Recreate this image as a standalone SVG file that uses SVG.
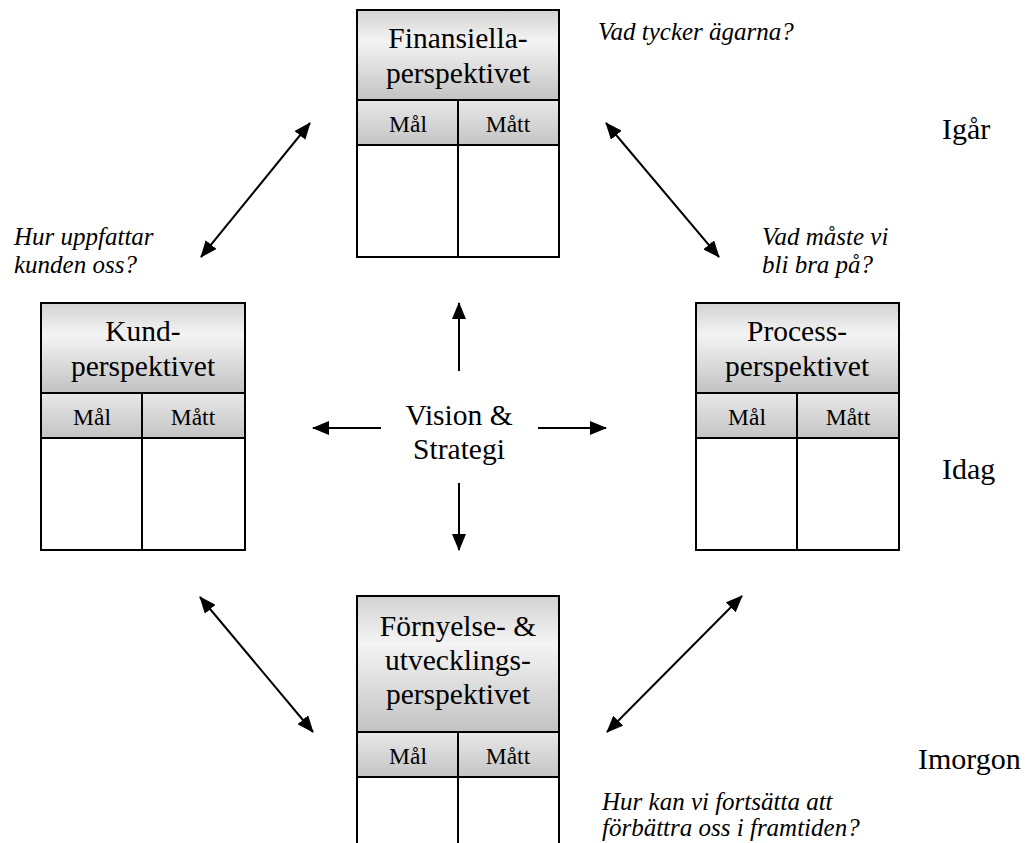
<svg xmlns="http://www.w3.org/2000/svg" width="1026" height="843" viewBox="0 0 1026 843">
<style>
.box{fill:#fff;stroke:#000;stroke-width:2}
.hdr{fill:url(#gh);stroke:#000;stroke-width:2}
.row{fill:url(#gr);stroke:#000;stroke-width:2}
.ln{stroke:#000;stroke-width:2;fill:none}
.ht{font-family:"Liberation Serif","Times New Roman",serif;font-size:29.5px;text-anchor:middle;fill:#000}
.rt{font-family:"Liberation Serif","Times New Roman",serif;font-size:23.5px;text-anchor:middle;fill:#000}
.it{font-family:"Liberation Serif","Times New Roman",serif;font-size:25px;font-style:italic;fill:#000}
.tt{font-family:"Liberation Serif","Times New Roman",serif;font-size:30px;fill:#000}
.ar{stroke:#000;stroke-width:2;fill:none;marker-end:url(#ah)}
.da{stroke:#000;stroke-width:2;fill:none;marker-start:url(#ah);marker-end:url(#ah)}
</style>
<defs>
<linearGradient id="gh" x1="0" y1="0" x2="0" y2="1">
<stop offset="0" stop-color="#d2d2d2"/>
<stop offset="0.35" stop-color="#f4f4f4"/>
<stop offset="1" stop-color="#c2c2c2"/>
</linearGradient>
<linearGradient id="gr" x1="0" y1="0" x2="0" y2="1">
<stop offset="0" stop-color="#e8e8e8"/>
<stop offset="1" stop-color="#c4c4c4"/>
</linearGradient>
<marker id="ah" markerUnits="userSpaceOnUse" markerWidth="18" markerHeight="14" refX="16" refY="7" orient="auto-start-reverse">
<path d="M0,0 L17,7 L0,14 z" fill="#000"/>
</marker>
</defs>
<rect width="1026" height="843" fill="#fff"/>

<g id="finansiella">
<rect class="box" x="357" y="10" width="202" height="247"/>
<rect class="hdr" x="357" y="10" width="202" height="90"/>
<rect class="row" x="357" y="100" width="202" height="45"/>
<line class="ln" x1="458" y1="100" x2="458" y2="257"/>
<text class="ht" x="458" y="48">Finansiella-</text>
<text class="ht" x="458" y="83">perspektivet</text>
<text class="rt" x="408" y="132">Mål</text>
<text class="rt" x="508" y="132">Mått</text>
</g>

<g id="kund">
<rect class="box" x="41" y="303" width="204" height="247"/>
<rect class="hdr" x="41" y="303" width="204" height="90"/>
<rect class="row" x="41" y="393" width="204" height="45"/>
<line class="ln" x1="142" y1="393" x2="142" y2="550"/>
<text class="ht" x="143" y="341">Kund-</text>
<text class="ht" x="143" y="376">perspektivet</text>
<text class="rt" x="92" y="425">Mål</text>
<text class="rt" x="193" y="425">Mått</text>
</g>

<g id="process">
<rect class="box" x="696" y="303" width="203" height="247"/>
<rect class="hdr" x="696" y="303" width="203" height="90"/>
<rect class="row" x="696" y="393" width="203" height="45"/>
<line class="ln" x1="797" y1="393" x2="797" y2="550"/>
<text class="ht" x="797" y="341">Process-</text>
<text class="ht" x="797" y="376">perspektivet</text>
<text class="rt" x="747" y="425">Mål</text>
<text class="rt" x="848" y="425">Mått</text>
</g>

<g id="fornyelse">
<rect class="box" x="357" y="596" width="202" height="300"/>
<rect class="hdr" x="357" y="596" width="202" height="136"/>
<rect class="row" x="357" y="732" width="202" height="45"/>
<line class="ln" x1="458" y1="732" x2="458" y2="896"/>
<text class="ht" x="458" y="636">Förnyelse- &amp;</text>
<text class="ht" x="458" y="670">utvecklings-</text>
<text class="ht" x="458" y="704">perspektivet</text>
<text class="rt" x="408" y="764">Mål</text>
<text class="rt" x="508" y="764">Mått</text>
</g>

<g id="vision">
<text class="ht" x="459" y="425">Vision &amp;</text>
<text class="ht" x="459" y="459">Strategi</text>
</g>

<g id="connectors">
<line class="ar" x1="459" y1="371" x2="459" y2="303"/>
<line class="ar" x1="381" y1="428" x2="313" y2="428"/>
<line class="ar" x1="538" y1="428" x2="606" y2="428"/>
<line class="ar" x1="459" y1="483" x2="459" y2="550"/>
<line class="da" x1="201" y1="257" x2="310" y2="123"/>
<line class="da" x1="606" y1="123" x2="719" y2="257"/>
<line class="da" x1="200" y1="597" x2="313" y2="732"/>
<line class="da" x1="742" y1="596" x2="607" y2="732"/>
</g>

<g id="labels">
<text class="it" x="598" y="40">Vad tycker ägarna?</text>
<text class="it" x="14" y="245">Hur uppfattar</text>
<text class="it" x="14" y="273">kunden oss?</text>
<text class="it" x="762" y="245">Vad måste vi</text>
<text class="it" x="762" y="273">bli bra på?</text>
<text class="it" x="602" y="810">Hur kan vi fortsätta att</text>
<text class="it" x="602" y="836">förbättra oss i framtiden?</text>
<text class="tt" x="942" y="139">Igår</text>
<text class="tt" x="942" y="479">Idag</text>
<text class="tt" x="918" y="769">Imorgon</text>
</g>
</svg>
